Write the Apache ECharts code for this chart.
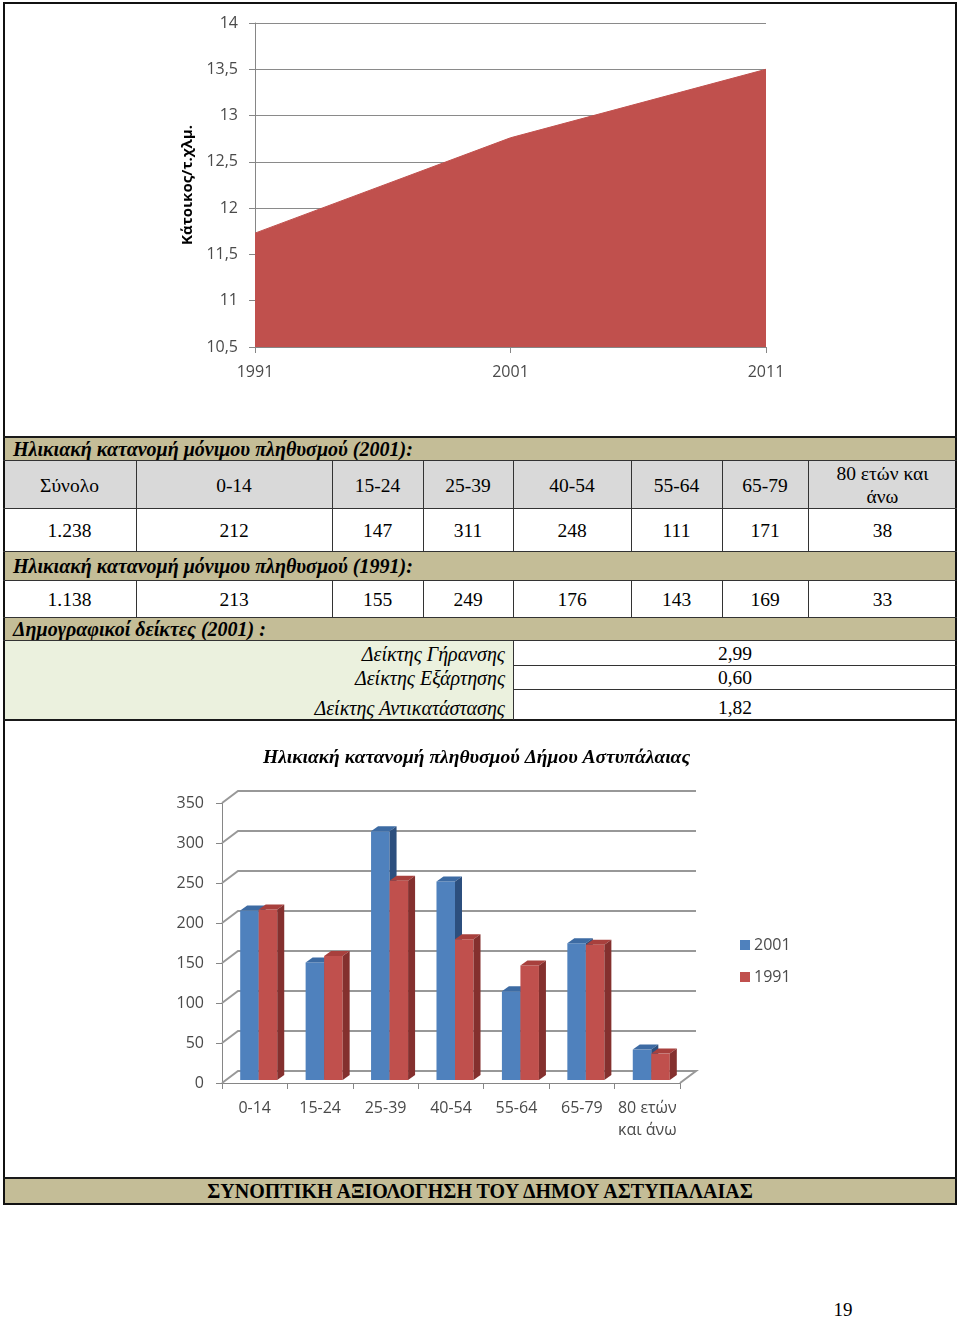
<!DOCTYPE html>
<html>
<head>
<meta charset="utf-8">
<script src="https://cdn.jsdelivr.net/npm/echarts@6/dist/echarts.min.js"></script>
<style>
  html,body{margin:0;padding:0;background:#fff;}
  #page{position:relative;width:960px;height:1318px;background:#fff;overflow:hidden;font-family:"Liberation Serif","Times New Roman",serif;color:#000;}
  .abs{position:absolute;box-sizing:border-box;}
  .band{background:#C4BD97;font-style:italic;font-weight:bold;font-size:20px;padding-left:10px;white-space:nowrap;}
  .cell{display:flex;align-items:center;justify-content:center;text-align:center;font-size:19.5px;line-height:23px;}
  .lbl{font-style:italic;font-size:20px;text-align:right;white-space:nowrap;}
</style>
</head>
<body>
<div id="page">
  <div id="c1" class="abs" style="left:0;top:0;width:960px;height:437px;"></div>
  <div id="tbl"></div>
  <div id="c2" class="abs" style="left:0;top:720px;width:960px;height:458px;"></div>
  <div id="lines"></div>
</div>
<script>
// ---------- data ----------
const years = ['1991', '2001', '2011'];
const density = [11.73, 12.76, 13.5];
const densityTicks = [10.5, 11, 11.5, 12, 12.5, 13, 13.5, 14];

const ageGroups = ['0-14', '15-24', '25-39', '40-54', '55-64', '65-79', '80 ετών και άνω'];
const pop2001 = [212, 147, 311, 248, 111, 171, 38];
const pop1991 = [213, 155, 249, 176, 143, 169, 33];
const total2001 = '1.238';
const total1991 = '1.138';
const popTicks = [0, 50, 100, 150, 200, 250, 300, 350];

const indicatorNames = ['Δείκτης Γήρανσης', 'Δείκτης Εξάρτησης', 'Δείκτης Αντικατάστασης'];
const indicatorValues = ['2,99', '0,60', '1,82'];

const band2001 = 'Ηλικιακή κατανομή μόνιμου πληθυσμού (2001):';
const band1991 = 'Ηλικιακή κατανομή μόνιμου πληθυσμού (1991):';
const bandIdx = 'Δημογραφικοί δείκτες (2001) :';
const firstHeader = 'Σύνολο';
const chartTitle = 'Ηλικιακή κατανομή πληθυσμού Δήμου Αστυπάλαιας';
const footerText = 'ΣΥΝΟΠΤΙΚΗ ΑΞΙΟΛΟΓΗΣΗ ΤΟΥ ΔΗΜΟΥ ΑΣΤΥΠΑΛΑΙΑΣ';
const pageNumber = '19';

// ---------- table (HTML) ----------
const colX = [3, 136, 332, 423, 513, 631, 722, 808, 957];
let h = '';
function band(top, height, text){
  h += `<div class="abs band" style="left:3px;top:${top}px;width:954px;height:${height}px;line-height:${height}px;">${text}</div>`;
}
function row(top, height, texts, bg){
  for(let i=0;i<texts.length;i++){
    h += `<div class="abs cell" style="left:${colX[i]}px;top:${top}px;width:${colX[i+1]-colX[i]}px;height:${height}px;background:${bg};">${texts[i]}</div>`;
  }
}
band(437, 24, band2001);
row(461, 48, [firstHeader].concat(ageGroups.map(s => s.replace(' άνω', '<br>άνω'))), '#D9D9D9');
row(509, 43, [total2001].concat(pop2001.map(String)), '#fff');
band(552, 29, band1991);
row(581, 37, [total1991].concat(pop1991.map(String)), '#fff');
band(618, 23, bandIdx);
h += `<div class="abs" style="left:3px;top:641px;width:510px;height:79px;background:#EBF1DE;"></div>`;
const idxRows = [[641, 665, 654], [665, 689, 678], [689, 720, 708]];
idxRows.forEach((r, k) => {
  h += `<div class="abs lbl" style="left:3px;width:502px;top:${r[2]-12}px;height:24px;line-height:24px;">${indicatorNames[k]}</div>`;
  h += `<div class="abs" style="left:513px;width:444px;top:${r[2]-12}px;height:24px;line-height:24px;text-align:center;font-size:19.5px;">${indicatorValues[k]}</div>`;
});
// footer
h += `<div class="abs" style="left:3px;top:1178px;width:954px;height:27px;background:#C4BD97;text-align:center;font-weight:bold;font-size:20px;line-height:27px;">${footerText}</div>`;
h += `<div class="abs" style="left:820px;top:1298px;width:46px;height:24px;text-align:center;font-size:19px;line-height:24px;">${pageNumber}</div>`;
document.getElementById('tbl').innerHTML = h;

// lines
let L = '';
function hl(y, x1, x2, t, c){ L += `<div class="abs" style="left:${x1}px;top:${y}px;width:${x2-x1}px;height:${t}px;background:${c||'#1a1a1a'};"></div>`; }
function vl(x, y1, y2, t, c){ L += `<div class="abs" style="left:${x}px;top:${y1}px;width:${t}px;height:${y2-y1}px;background:${c||'#1a1a1a'};"></div>`; }
L += `<div class="abs" style="left:3px;top:2px;width:954px;height:1203px;border:2px solid #111;"></div>`;
hl(436, 3, 957, 2);
[460, 508, 551, 580, 617, 640].forEach(y => hl(y, 3, 957, 1, '#333'));
hl(719, 3, 957, 2);
hl(1177, 3, 957, 2);
for(let i=1;i<colX.length-1;i++){ vl(colX[i], 461, 552, 1, '#333'); vl(colX[i], 581, 618, 1, '#333'); }
vl(513, 641, 720, 1, '#333');
hl(665, 513, 957, 1, '#333');
hl(689, 513, 957, 1, '#333');
document.getElementById('lines').innerHTML = L;

// ---------- chart 1: density area ----------
const sansFont = '"Open Sans","Noto Sans",sans-serif';
const c1 = echarts.init(document.getElementById('c1'));
c1.setOption({
  backgroundColor: 'transparent',
  animation: false,
  grid: { left: 255, top: 23, width: 511, height: 324 },
  xAxis: {
    type: 'category', data: years, boundaryGap: false,
    axisLine: { lineStyle: { color: '#868686' } },
    axisTick: { show: true, length: 6, lineStyle: { color: '#868686' } },
    axisLabel: { color: '#4a4a4a', fontFamily: sansFont, fontSize: 16, margin: 17 }
  },
  yAxis: {
    type: 'value', min: 10.5, max: 14, interval: 0.5,
    name: 'Κάτοικος/τ.χλμ.', nameLocation: 'middle', nameRotate: 90, nameGap: 58,
    nameTextStyle: { fontFamily: sansFont, fontWeight: 'bold', fontSize: 15, color: '#000' },
    axisLine: { show: true, lineStyle: { color: '#868686' } },
    axisTick: { show: true, length: 6, lineStyle: { color: '#868686' } },
    splitLine: { lineStyle: { color: '#8a8a8a' } },
    axisLabel: { color: '#4a4a4a', fontFamily: sansFont, fontSize: 16, margin: 17,
      formatter: v => densityTicks.indexOf(v) >= 0 ? String(v).replace('.', ',') : '' }
  },
  series: [{
    type: 'line', data: density, symbol: 'none',
    lineStyle: { color: '#C0504D', width: 1 },
    areaStyle: { color: '#C0504D', opacity: 1 }
  }]
});

// ---------- chart 2: 3D-looking bars ----------
const palettes = [
  { front: '#4F81BD', top: '#3D6BA3', side: '#2C4F7E' },
  { front: '#C0504D', top: '#A8403D', side: '#84302E' }
];
const DX = 7, DY = -5, OFFX = 4, OFFY = -3, WALLX = 16, WALLY = -12;
function barRender(s){
  return function(params, api){
    const i = api.value(0), v = api.value(1);
    const bw = api.size([1, 0])[0];
    const w = bw * 0.283;
    const p = api.coord([i, v]);
    const b = api.coord([i, 0]);
    const cx = p[0] + OFFX;
    const yT = p[1] + OFFY, yB = b[1] + OFFY;
    const x = s === 0 ? cx - w : cx;
    const col = palettes[s];
    return { type: 'group', children: [
      { type: 'rect', shape: { x: x, y: yT, width: w, height: yB - yT }, style: { fill: col.front } },
      { type: 'polygon', shape: { points: [[x, yT], [x + w, yT], [x + w + DX, yT + DY], [x + DX, yT + DY]] }, style: { fill: col.top } },
      { type: 'polygon', shape: { points: [[x + w, yT], [x + w + DX, yT + DY], [x + w + DX, yB + DY], [x + w, yB]] }, style: { fill: col.side } }
    ]};
  };
}
function wallRender(params, api){
  const v = api.value(1);
  const bw = api.size([1, 0])[0];
  const p = api.coord([0, v]);
  const xL = p[0] - bw / 2;
  const xR = api.coord([ageGroups.length - 1, v])[0] + bw / 2;
  const y = p[1];
  const pts = [[xL, y], [xL + WALLX, y + WALLY], [xR + WALLX, y + WALLY]];
  if (v === 0) pts.push([xR, y]);
  return { type: 'polyline', shape: { points: pts }, style: { stroke: '#989898', lineWidth: 2, fill: null } };
}
const c2 = echarts.init(document.getElementById('c2'));
c2.setOption({
  backgroundColor: 'transparent',
  animation: false,
  title: {
    text: chartTitle, left: 258, top: 23,
    textStyle: { fontFamily: '"Liberation Serif","Times New Roman",serif', fontStyle: 'italic', fontWeight: 'bold', fontSize: 19.5, color: '#000' }
  },
  legend: {
    data: ['2001', '1991'], orient: 'vertical', left: 735, top: 212,
    icon: 'rect', itemWidth: 10, itemHeight: 10, itemGap: 16, itemStyle: { borderWidth: 0 },
    textStyle: { fontFamily: sansFont, fontSize: 16, color: '#4a4a4a', padding: [0, 0, 0, -1] }
  },
  grid: { left: 222, top: 83, width: 458, height: 280 },
  xAxis: {
    type: 'category', data: ageGroups,
    axisLine: { lineStyle: { color: '#868686' } },
    axisTick: { show: true, length: 6, lineStyle: { color: '#868686' } },
    axisLabel: { color: '#4a4a4a', fontFamily: sansFont, fontSize: 16, margin: 14, lineHeight: 22, interval: 0,
      formatter: s => s.replace(' και', '\nκαι') }
  },
  yAxis: {
    type: 'value', min: 0, max: 350, interval: 50,
    axisLine: { show: true, lineStyle: { color: '#868686' } },
    axisTick: { show: true, length: 6, lineStyle: { color: '#868686' } },
    splitLine: { show: false },
    axisLabel: { color: '#4a4a4a', fontFamily: sansFont, fontSize: 16, margin: 18,
      formatter: v => popTicks.indexOf(v) >= 0 ? String(v) : '' }
  },
  series: [
    { type: 'custom', name: 'wall', silent: true, renderItem: wallRender, encode: { x: 0, y: 1 },
      data: popTicks.map(v => [0, v]), z: 1 },
    { type: 'custom', name: '2001', renderItem: barRender(0), encode: { x: 0, y: 1 },
      itemStyle: { color: '#4F81BD' }, data: pop2001.map((v, i) => [i, v]), z: 2 },
    { type: 'custom', name: '1991', renderItem: barRender(1), encode: { x: 0, y: 1 },
      itemStyle: { color: '#C0504D' }, data: pop1991.map((v, i) => [i, v]), z: 3 }
  ]
});
</script>
</body>
</html>
